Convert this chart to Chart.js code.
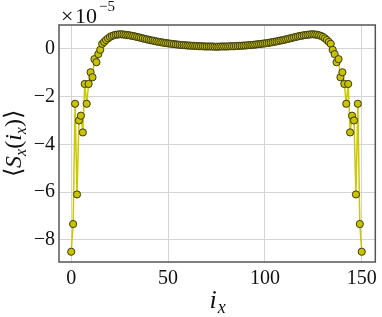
<!DOCTYPE html>
<html>
<head>
<meta charset="utf-8">
<script src="https://cdn.jsdelivr.net/npm/chart.js@4"></script>
<style>
  body { margin: 0; background: #fff; }
  #wrap { width: 382px; height: 317px; }
</style>
</head>
<body>
<div id="wrap"><canvas id="sxChart" width="382" height="317"></canvas></div>
<script>
// site index i_x = 0..150
const ix = Array.from({ length: 151 }, (_, i) => i);
// <S_x(i_x)> in units of 1e-5
const sx = [
  -8.5, -7.34, -2.3, -6.1, -3.0, -2.8, -3.5, -1.47, -2.3, -1.47,
  -0.98, -1.19, -0.43, -0.56, -0.22, -0.04, 0.21, 0.29, 0.37, 0.44,
  0.5, 0.54, 0.57, 0.59, 0.6, 0.61, 0.61, 0.6, 0.59, 0.58,
  0.57, 0.55, 0.54, 0.52, 0.5, 0.48, 0.46, 0.44, 0.42, 0.4,
  0.38, 0.36, 0.35, 0.33, 0.31, 0.3, 0.28, 0.27, 0.25, 0.24,
  0.23, 0.22, 0.21, 0.2, 0.19, 0.18, 0.17, 0.16, 0.16, 0.15,
  0.14, 0.14, 0.13, 0.13, 0.12, 0.12, 0.11, 0.11, 0.11, 0.1,
  0.1, 0.1, 0.1, 0.1, 0.09, 0.09, 0.09, 0.1, 0.1, 0.1,
  0.1, 0.1, 0.11, 0.11, 0.11, 0.12, 0.12, 0.13, 0.13, 0.14,
  0.14, 0.15, 0.16, 0.16, 0.17, 0.18, 0.19, 0.2, 0.21, 0.22,
  0.23, 0.24, 0.25, 0.27, 0.28, 0.3, 0.31, 0.33, 0.35, 0.36,
  0.38, 0.4, 0.42, 0.44, 0.46, 0.48, 0.5, 0.52, 0.54, 0.55,
  0.57, 0.58, 0.59, 0.6, 0.61, 0.61, 0.6, 0.59, 0.57, 0.54,
  0.5, 0.44, 0.37, 0.29, 0.21, -0.04, -0.22, -0.56, -0.43, -1.19,
  -0.98, -1.47, -2.3, -1.47, -3.5, -2.8, -3.0, -6.1, -2.3, -7.34,
  -8.5
];
const xTicks = [0, 50, 100, 150];
const yTicks = [-8, -6, -4, -2, 0];

const serif = "'Liberation Serif', 'Times New Roman', serif";

// draws frame, the x10^-5 label and the axis titles with subscripts
const decorations = {
  id: "decorations",
  afterDraw(chart) {
    const ctx = chart.ctx;
    const a = chart.chartArea;
    ctx.save();
    ctx.strokeStyle = "#555";
    ctx.lineWidth = 1.5;
    ctx.strokeRect(a.left, a.top, a.right - a.left, a.bottom - a.top);

    ctx.fillStyle = "#111";
    ctx.textBaseline = "alphabetic";
    ctx.textAlign = "left";
    // multiplier
    ctx.font = "22px " + serif;
    ctx.fillText("×", 61, 23);
    ctx.fillText("10", 75, 23);
    const w10 = ctx.measureText("10").width;
    ctx.font = "15px " + serif;
    ctx.fillText("−5", 75 + w10 + 2, 11);

    // x title: i_x
    const cx = (a.left + a.right) / 2;
    ctx.font = "italic 26px " + serif;
    const wi = ctx.measureText("i").width;
    ctx.font = "italic 18px " + serif;
    const wx = ctx.measureText("x").width;
    let x0 = cx - (wi + wx) / 2;
    ctx.font = "italic 26px " + serif;
    ctx.fillText("i", x0, 308);
    ctx.font = "italic 18px " + serif;
    ctx.fillText("x", x0 + wi + 1, 313);

    // y title: <S_x(i_x)>
    const parts = [
      ["⟨", "24px", 0],
      ["S", "italic 24px", 0],
      ["x", "italic 16px", 5],
      ["(", "24px", 0],
      ["i", "italic 24px", 0],
      ["x", "italic 16px", 5],
      [")", "24px", 0],
      ["⟩", "24px", 0]
    ];
    let total = 0;
    parts.forEach((p) => {
      ctx.font = p[1] + " " + serif;
      p.push(ctx.measureText(p[0]).width);
      total += p[3];
    });
    ctx.translate(21, (a.top + a.bottom) / 2);
    ctx.rotate(-Math.PI / 2);
    let px = -total / 2;
    parts.forEach((p) => {
      ctx.font = p[1] + " " + serif;
      ctx.fillText(p[0], px, p[2]);
      px += p[3];
    });
    ctx.restore();
  }
};

new Chart(document.getElementById("sxChart").getContext("2d"), {
  type: "scatter",
  data: {
    datasets: [
      {
        data: ix.map((v, i) => ({ x: v, y: sx[i] })),
        showLine: true,
        borderColor: "rgb(206, 200, 0)",
        borderWidth: 1.5,
        backgroundColor: "rgb(200, 194, 0)",
        pointBackgroundColor: "rgb(200, 194, 0)",
        pointBorderColor: "#3b3a12",
        pointBorderWidth: 1,
        pointRadius: 3.6,
        tension: 0
      }
    ]
  },
  options: {
    responsive: false,
    animation: false,
    layout: { padding: { top: 25, right: 6, left: 0, bottom: 0 } },
    plugins: { legend: { display: false }, tooltip: { enabled: false } },
    scales: {
      x: {
        type: "linear",
        min: -6.3,
        max: 157,
        afterBuildTicks: (s) => { s.ticks = xTicks.map((v) => ({ value: v })); },
        afterFit: (s) => { s.height = 55; },
        grid: { color: "#d4d4d4", lineWidth: 1, drawTicks: false },
        border: { display: false },
        ticks: { font: { family: serif, size: 20 }, color: "#111", padding: 5 }
      },
      y: {
        min: -8.93,
        max: 1.0,
        afterBuildTicks: (s) => { s.ticks = yTicks.map((v) => ({ value: v })); },
        afterFit: (s) => { s.width = 59; },
        grid: { color: "#d4d4d4", lineWidth: 1, drawTicks: false },
        border: { display: false },
        ticks: {
          font: { family: serif, size: 20 },
          color: "#111",
          padding: 4,
          callback: (v) => (v === 0 ? "0" : "−" + Math.abs(v))
        }
      }
    }
  },
  plugins: [decorations]
});
</script>
</body>
</html>
